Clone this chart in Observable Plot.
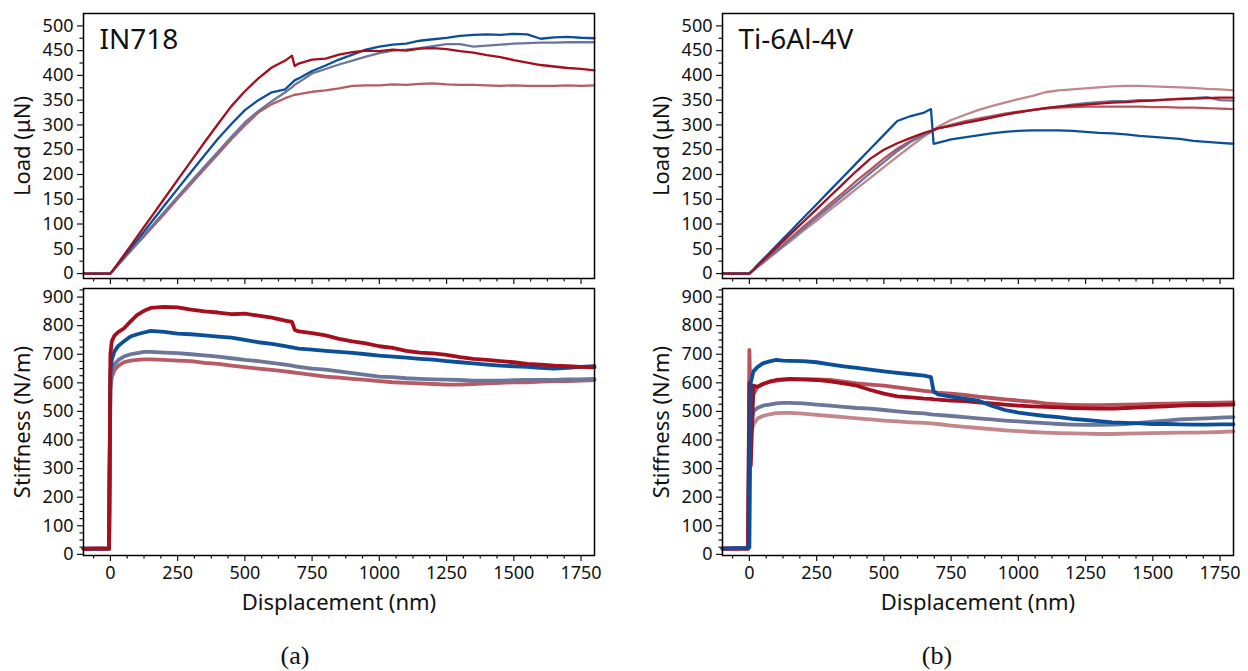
<!DOCTYPE html>
<html>
<head>
<meta charset="utf-8">
<script src="https://cdn.jsdelivr.net/npm/d3@7"></script>
<script src="https://cdn.jsdelivr.net/npm/@observablehq/plot@0.6"></script>
<style>
  html, body { margin: 0; padding: 0; background: #fff; }
  body { width: 1248px; height: 671px; overflow: hidden; position: relative; font-family: "Noto Sans", sans-serif; }
  .p { position: absolute; }
  .cap { position: absolute; font-family: "Liberation Serif", "DejaVu Serif", serif; font-size: 26px; color: #111; transform: translate(-50%, -50%); }
</style>
</head>
<body>
<div id="a1" class="p" style="left:0;top:0"></div>
<div id="a2" class="p" style="left:0;top:283px"></div>
<div id="b1" class="p" style="left:639px;top:0"></div>
<div id="b2" class="p" style="left:639px;top:283px"></div>
<div class="cap" style="left:295px;top:656px">(a)</div>
<div class="cap" style="left:937px;top:656px">(b)</div>
<script>
// Displacement grid (nm)
const disp = [-100,-50,-5,0,5,15,30,50,75,100,125,150,200,250,300,350,400,450,500,550,600,650,675,685,700,750,800,850,900,950,1000,1050,1100,1150,1200,1250,1300,1350,1400,1450,1500,1550,1600,1650,1700,1750,1800];

// Tick labels
const xTicks = [0,250,500,750,1000,1250,1500,1750];
const loadTicks = [0,50,100,150,200,250,300,350,400,450,500];
const stiffTicks = [0,100,200,300,400,500,600,700,800,900];

// Colours
const cBlue = "#0c4f99", cGray = "#6b7699", cRed = "#a50f1d", cPinkA = "#b85b64", cPinkLight = "#c3868b", cPinkMed = "#b7535d";

// ---- (a) IN718, Load (µN)
const loadA_red  = [0,0,0,0, 3,11,22,37,56,75,94,113, 151,189,227,265,302,338,368,394,416,430, 440,419, 424,432,434,442,447,450,449,452,450,454,455,453,449,446,441,437,431,426,421,418,415,413,410];
const loadA_blue = [0,0,0,0, 3,10,20,34,51,68,85,102, 137,171,205,239,272,302,330,350,366,372, 385,390, 394,409,420,432,442,452,458,462,464,470,473,476,480,482,483,482,484,483,474,477,478,476,475];
const loadA_gray = [0,0,0,0, 3,9,19,31,47,62,78,93, 124,155,186,216,246,276,305,328,348,366, 376,381, 386,404,413,422,430,438,445,450,452,455,459,463,463,458,460,462,464,465,466,466,467,467,467];
const loadA_pink = [0,0,0,0, 3,9,18,30,45,60,75,90, 120,151,181,211,241,271,299,325,342,354, 359,361, 362,367,370,374,379,380,380,382,381,383,384,382,381,381,380,379,380,379,379,379,380,379,380];

// ---- (a) IN718, Stiffness (N/m)
const stiffA_red  = [19,21,20, 700,745,765,778,790,815,838,852,862, 866,864,856,850,846,840,842,835,828,818, 813,786, 780,774,766,754,745,738,728,722,712,706,703,698,690,684,680,676,672,666,664,660,658,656,654];
const stiffA_blue = [20,19,21, 640,680,710,730,745,762,770,776,782, 778,772,770,766,762,758,750,742,736,728, 724,722, 720,716,712,708,705,700,695,692,688,684,681,676,672,668,664,660,658,656,652,650,652,656,658];
const stiffA_gray = [21,20,19, 600,640,665,680,692,700,704,708,708, 706,704,700,696,692,686,680,676,670,664, 660,658, 656,650,646,640,634,628,622,620,616,614,612,611,610,608,608,608,609,610,610,610,612,612,614];
const stiffA_pink = [18,20,19, 580,620,645,660,672,678,680,682,682, 680,678,676,670,666,660,655,650,645,640, 637,636, 634,628,622,618,614,610,606,602,600,598,596,594,594,596,598,600,602,602,604,606,606,608,610];

// ---- (b) Ti-6Al-4V, Load (µN)
const loadB_blue  = [0,0,0,0, 3,8,17,28,42,56,70,84, 112,140,168,196,224,252,280,308,318,325, 332,262, 264,271,275,279,283,286,288,289,289,289,288,286,284,283,281,278,276,274,272,268,266,264,262];
const loadB_red   = [0,0,0,0, 3,8,16,26,39,52,65,78, 104,130,156,182,208,232,250,263,274,284, 288,290, 293,298,304,309,315,321,326,330,334,337,339,341,343,345,346,348,349,351,352,353,354,355,355];
const loadB_gray  = [0,0,0,0, 2,7,14,22,34,45,56,68, 90,113,135,158,180,203,225,247,266,280, 286,289, 293,299,304,309,316,321,325,330,334,337,341,344,346,348,348,350,350,351,353,354,356,350,349];
const loadB_light = [0,0,0,0, 2,6,13,21,32,43,54,64, 86,107,129,150,172,193,215,236,257,277, 286,290, 296,310,320,330,338,345,352,358,366,370,372,374,376,378,379,379,378,377,376,375,373,372,370];
const loadB_med   = [0,0,0,0, 2,7,14,23,35,47,58,70, 94,117,141,164,188,210,232,252,268,281, 287,290, 293,300,307,313,318,323,327,330,333,335,336,337,337,337,337,337,336,336,335,335,334,333,332];

// ---- (b) Ti-6Al-4V, Stiffness (N/m)
const stiffB_blue  = [20,22,22, 25,600,640,655,668,675,680,678,677, 676,672,665,658,652,646,640,635,630,625, 620,570, 560,552,545,538,520,505,496,490,484,480,474,470,466,462,460,458,456,456,455,454,454,455,455];
const stiffB_red   = [20,21,20, 600,310,590,586,596,604,610,612,614, 612,610,605,598,590,575,562,553,549,545, 544,542, 541,538,536,532,528,524,520,518,516,514,512,511,510,510,512,514,516,518,520,522,522,523,524];
const stiffB_med   = [20,20,21, 715,500,560,585,596,604,608,610,612, 612,612,610,604,598,594,590,584,578,572, 569,568, 566,562,558,552,547,542,538,534,528,525,523,522,522,523,524,525,526,527,528,530,530,531,532];
const stiffB_gray  = [21,20,20, 470,440,500,512,520,524,528,530,530, 528,524,520,516,512,510,505,500,496,493, 490,489, 488,484,480,476,472,468,465,462,459,456,454,453,453,454,456,460,464,468,472,474,476,478,480];
const stiffB_light = [19,20,21, 412,420,455,475,484,490,494,495,495, 492,488,484,480,476,472,468,465,462,460, 458,457, 456,450,446,442,438,434,431,428,426,424,423,422,421,421,422,423,424,425,426,426,427,428,430];

const xMinor = d3.range(-62.5, 1800.01, 62.5).filter(v => Math.abs(((v % 250) + 250) % 250) > 1e-6);

function makePlot(o) {
  const yMinor = d3.range(0, o.yDomain[1], o.yMinorStep).filter(v => !o.yTicks.includes(v));
  const marks = [
    Plot.axisX({ticks: xMinor, tickSize: 3.5, tickFormat: () => "", label: null, strokeWidth: 1.2}),
    Plot.axisX({ticks: xTicks, tickSize: 6, tickPadding: 5, tickFormat: o.xLabels ? (d => String(d)) : (() => ""), label: null, strokeWidth: 1.2}),
    Plot.axisY({ticks: yMinor, tickSize: 3.5, tickFormat: () => "", label: null, strokeWidth: 1.2}),
    Plot.axisY({ticks: o.yTicks, tickSize: 6, tickPadding: 4, label: null, strokeWidth: 1.2}),
    Plot.text([o.yLabel], {frameAnchor: "left", dx: -61, rotate: -90, textAnchor: "middle", lineAnchor: "middle", fontSize: 22})
  ];
  if (o.xLabels) {
    marks.push(Plot.text(["Displacement (nm)"], {frameAnchor: "bottom", dy: 47, textAnchor: "middle", lineAnchor: "middle", fontSize: 22}));
  }
  if (o.title) {
    marks.push(Plot.text([o.title], {frameAnchor: "top-left", dx: 16, dy: 16, textAnchor: "start", lineAnchor: "top", fontSize: 28}));
  }
  for (const s of o.series) {
    marks.push(Plot.line(disp.map((d, i) => ({d, v: s.values[i]})), {x: "d", y: "v", stroke: s.color, strokeWidth: o.sw, strokeLinejoin: "round"}));
  }
  marks.push(Plot.frame({stroke: "#000", strokeWidth: 1.5}));
  return Plot.plot({
    width: o.width, height: o.height,
    marginLeft: 83, marginRight: o.marginRight, marginTop: o.marginTop, marginBottom: o.marginBottom,
    x: {domain: [-100, 1800]},
    y: {domain: o.yDomain},
    style: {fontFamily: "Noto Sans, sans-serif", fontSize: "18px", color: "#111", background: "transparent", overflow: "visible"},
    marks
  });
}

const topOpts = {height: 287, marginTop: 13, marginBottom: 9, yDomain: [-10, 525], yTicks: loadTicks, yMinorStep: 25, yLabel: "Load (μN)", xLabels: false, sw: 2.3};
const botOpts = {height: 337, marginTop: 5, marginBottom: 65, yDomain: [-4, 930], yTicks: stiffTicks, yMinorStep: 25, yLabel: "Stiffness (N/m)", xLabels: true, sw: 3.8};

document.getElementById("a1").append(makePlot({...topOpts, width: 620, marginRight: 26, title: "IN718",
  series: [
    {values: loadA_pink, color: cPinkA},
    {values: loadA_gray, color: cGray},
    {values: loadA_blue, color: cBlue},
    {values: loadA_red, color: cRed}
  ]}));
document.getElementById("a2").append(makePlot({...botOpts, width: 620, marginRight: 26,
  series: [
    {values: stiffA_pink, color: cPinkA},
    {values: stiffA_gray, color: cGray},
    {values: stiffA_blue, color: cBlue},
    {values: stiffA_red, color: cRed}
  ]}));
document.getElementById("b1").append(makePlot({...topOpts, width: 609, marginRight: 15, title: "Ti-6Al-4V",
  series: [
    {values: loadB_light, color: cPinkLight},
    {values: loadB_med, color: cPinkMed},
    {values: loadB_gray, color: cGray},
    {values: loadB_blue, color: cBlue},
    {values: loadB_red, color: cRed}
  ]}));
document.getElementById("b2").append(makePlot({...botOpts, width: 609, marginRight: 15,
  series: [
    {values: stiffB_light, color: cPinkLight},
    {values: stiffB_gray, color: cGray},
    {values: stiffB_med, color: cPinkMed},
    {values: stiffB_red, color: cRed},
    {values: stiffB_blue, color: cBlue}
  ]}));
</script>
</body>
</html>
